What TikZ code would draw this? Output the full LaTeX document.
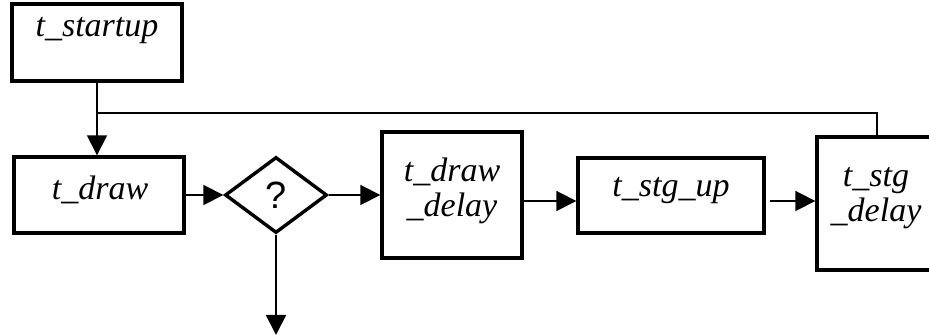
\documentclass[tikz,border=0pt]{standalone}
\usepackage{fontspec}
\setmainfont{Liberation Serif}
\setsansfont{Liberation Sans}
\usetikzlibrary{shapes.geometric,arrows.meta}

\tikzset{
  stage/.style={draw, line width=1.7pt, inner sep=0pt},
  test/.style={draw, diamond, line width=1.7pt, inner sep=0pt,
    font=\sffamily\fontsize{19}{22}\selectfont},
  lbl/.style={font=\fontsize{17}{17.5}\selectfont\itshape, anchor=base,
    align=center, inner sep=0pt},
  flow/.style={line width=0.9pt, -{Triangle[length=10pt,width=10pt]}}
}

\begin{document}
\begin{tikzpicture}[x=0.5pt, y=-0.5pt]
\useasboundingbox (0,0) rectangle (929,335);
\clip (0,0) rectangle (929,335);

% start
\node[stage, minimum width=85pt, minimum height=38.5pt] (startup) at (97,42.5) {};
\node[lbl] at (97,37) {t\_startup};

% draw and test
\node[stage, minimum width=85pt, minimum height=38pt] (draw) at (99,195) {};
\node[lbl] at (100,200) {t\_draw};
\node[test, minimum width=51pt, minimum height=38pt] (ask) at (276,195) {?};

% delays
\node[stage, minimum width=70pt, minimum height=63pt] (ddelay) at (452,195) {};
\node[lbl] at (452,217) {t\_draw\\\_delay};
\node[stage, minimum width=93pt, minimum height=37.5pt] (stgup) at (671,195.5) {};
\node[lbl] at (671,197) {t\_stg\_up};
\node[stage, minimum width=60pt, minimum height=66.5pt] (sdelay) at (877,203.5) {};
\node[lbl] at (876,222) {t\_stg\\\_delay};

% free ends
\coordinate (join) at (98,113);
\coordinate (out) at (276,335);

% connectors
\draw[flow] (startup.south) -- (startup.south |- draw.north);
\draw[line width=0.9pt] (sdelay.north) |- (join);
\draw[flow] (draw.east) -- (ask.west);
\draw[flow] (ask.east) -- (ddelay.west);
\draw[flow] (ask.south) -- (out);
\draw[flow] ([yshift=-3pt]ddelay.east) -- ([yshift=-3pt]ddelay.east -| stgup.west);
\draw[flow] ([xshift=2pt,yshift=-2.75pt]stgup.east) -- ([yshift=-2.75pt]stgup.east -| sdelay.west);
\end{tikzpicture}
\end{document}
